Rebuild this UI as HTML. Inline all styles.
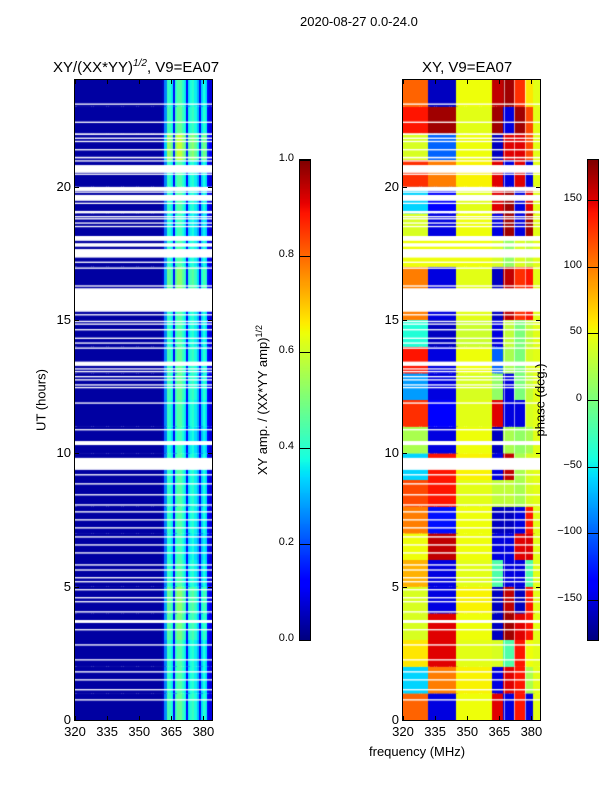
<!DOCTYPE html>
<html><head><meta charset="utf-8">
<style>
body{margin:0;background:#fff;width:600px;height:800px;position:relative;font-family:"Liberation Sans",sans-serif;overflow:hidden}
.t{position:absolute;font-size:13px;color:#000;white-space:nowrap}
canvas{position:absolute}
.frame{position:absolute;border:1px solid #000;box-sizing:border-box}
</style></head><body>
<div class="t" style="left:300px;top:14px">2020-08-27 0.0-24.0</div>
<div class="t" style="left:53px;top:58px;font-size:15px">XY/(XX*YY)<sup style="font-size:10px;font-style:italic">1/2</sup>, V9=EA07</div>
<div class="t" style="left:422px;top:59px;font-size:15px">XY, V9=EA07</div>
<canvas id="cl" width="137" height="640" style="left:75px;top:80px"></canvas>
<canvas id="cr" width="137" height="640" style="left:403px;top:80px"></canvas>
<canvas id="cb1" width="10" height="480" style="left:300px;top:160px"></canvas>
<canvas id="cb2" width="10" height="480" style="left:588px;top:160px"></canvas>
<div class="frame" style="left:74px;top:79px;width:139px;height:642px"></div>
<div class="frame" style="left:402px;top:79px;width:139px;height:642px"></div>
<div class="frame" style="left:299px;top:159px;width:12px;height:482px"></div>
<div class="frame" style="left:587px;top:159px;width:12px;height:482px"></div>
<div class="t" style="left:41px;top:400px;transform:translate(-50%,-50%) rotate(-90deg)">UT (hours)</div>
<div class="t" style="left:262px;top:400px;transform:translate(-50%,-50%) rotate(-90deg)">XY amp. / (XX*YY amp)<sup style="font-size:9px">1/2</sup></div>
<div class="t" style="left:540px;top:400px;transform:translate(-50%,-50%) rotate(-90deg)">phase (deg.)</div>
<div class="t" style="left:369px;top:744px">frequency (MHz)</div>
<div id="ann"></div>
<script>
const hourTicks=[0,5,10,15,20];
const freqTicks=[320,335,350,365,380];
const cb1Ticks=[0.0,0.2,0.4,0.6,0.8,1.0];
const cb2Ticks=[-150,-100,-50,0,50,100,150];
// amplitude per 1 MHz channel 320..383
const ampChan=[0.03,0.03,0.03,0.03,0.03,0.03,0.03,0.03,0.03,0.03,0.03,0.03,0.03,0.03,0.03,0.03,0.03,0.03,0.03,0.03,0.03,0.03,0.03,0.03,0.03,0.03,0.03,0.03,0.03,0.03,0.03,0.03,0.03,0.03,0.03,0.03,0.03,0.03,0.03,0.03,0.03,0.05,0.25,0.42,0.4,0.36,0.12,0.4,0.45,0.45,0.4,0.36,0.12,0.35,0.38,0.4,0.36,0.3,0.12,0.33,0.38,0.35,0.12,0.08];
const ampHourScale=[1.05,1.0,1.0,1.1,1.15,1.0,0.95,1.0,1.0,1.0,0.95,1.0,1.05,1.05,1.0,1.0,1.15,1.0,0.95,1.0,1.0,1.3,1.05,1.0];
// phase per hour (0..23) per band
const phaseLow1=[110,-60,60,40,40,80,50,100,120,-60,20,130,-80,140,-40,100,100,50,40,-60,130,40,140,110];
const phaseLow2=[-150,100,150,150,-150,-150,160,-130,140,140,-150,-140,-150,-150,-160,-150,-150,50,-150,-140,100,-100,170,-160];
const phaseMid=[50,55,45,50,55,45,50,50,45,55,50,45,40,50,35,45,45,50,50,45,55,50,45,50];
const phaseH1=[150,-150,40,-160,-160,-20,-150,-160,30,-150,-160,150,10,-100,-150,-160,-160,40,-150,150,150,-160,170,160];
const phaseH2=[-150,150,-20,170,160,-150,-150,-160,30,160,20,-150,-150,20,30,160,160,10,170,170,-150,150,-150,170];
const phaseH3=[140,140,140,150,-160,-150,150,-150,20,20,10,-150,0,0,0,130,130,40,-150,-150,150,150,170,130];
const phaseH4=[-150,20,50,140,140,-20,150,140,40,40,20,40,30,40,30,140,140,30,170,150,-150,120,120,60];
// flagged (blank) time intervals in hours [start,end]
const gaps=[[23.07,23.12],[22.39,22.44],[21.94,22.0],[21.79,21.84],[21.67,21.72],[21.36,21.41],[21.06,21.12],[20.94,20.99],[20.52,20.81],[20.44,20.49],[19.84,19.99],[19.77,19.82],[19.47,19.69],[19.35,19.4],[19.0,19.09],[18.85,18.9],[18.77,18.82],[18.61,18.66],[18.48,18.53],[17.97,18.15],[17.75,17.88],[17.34,17.66],[17.14,17.19],[16.92,16.97],[16.25,16.3],[15.31,16.19],[15.17,15.22],[14.92,14.97],[14.82,14.87],[14.61,14.66],[14.29,14.34],[14.11,14.16],[13.92,13.97],[13.28,13.44],[13.14,13.19],[13.04,13.09],[12.85,12.9],[12.73,12.78],[12.54,12.59],[12.44,12.49],[11.86,11.91],[10.86,10.91],[10.31,10.46],[9.38,9.83],[9.17,9.22],[8.83,8.88],[8.42,8.47],[8.04,8.09],[7.78,7.83],[7.48,7.53],[7.18,7.23],[6.84,6.89],[6.54,6.59],[6.24,6.29],[5.79,5.84],[5.6,5.65],[5.31,5.36],[5.16,5.21],[4.86,4.91],[4.56,4.61],[4.41,4.46],[4.03,4.08],[3.64,3.75],[3.36,3.41],[2.79,2.84],[2.23,2.28],[1.78,1.83],[1.48,1.53],[1.11,1.16],[0.73,0.78]];

function interp(pts,v){for(let i=1;i<pts.length;i++){if(v<=pts[i][0]){const a=pts[i-1],b=pts[i];return a[1]+(b[1]-a[1])*(v-a[0])/(b[0]-a[0]);}}return pts[pts.length-1][1];}
function jet(v){v=Math.max(0,Math.min(1,v));
 const r=interp([[0,0],[0.35,0],[0.66,1],[0.89,1],[1,0.5]],v);
 const g=interp([[0,0],[0.125,0],[0.375,1],[0.64,1],[0.91,0],[1,0]],v);
 const b=interp([[0,0.5],[0.11,1],[0.34,1],[0.65,0],[1,0]],v);
 return 'rgb('+Math.round(r*255)+','+Math.round(g*255)+','+Math.round(b*255)+')';}
const F0=320,F1=384,H0=0,H1=24,W=137,Hh=640;
function fx(f){return (f-F0)/(F1-F0)*W;}
function hy(h){return Hh-(h-H0)/(H1-H0)*Hh;}
function phaseAt(f,hr){
 if(f<332)return phaseLow1[hr];if(f<345)return phaseLow2[hr];if(f<362)return phaseMid[hr];
 if(f<367)return phaseH1[hr];if(f<372)return phaseH2[hr];if(f<377)return phaseH3[hr];if(f<381)return phaseH4[hr];return 45;}
const cl=document.getElementById('cl').getContext('2d');
const cr=document.getElementById('cr').getContext('2d');
for(let hr=0;hr<24;hr++){
 for(let c=0;c<64;c++){
  const f=F0+c;
  const x0=fx(f),x1=fx(f+1),y0=hy(hr+1),y1=hy(hr);
  cl.fillStyle=jet(Math.min(1,ampChan[c]*(c>40?ampHourScale[hr]:1)));
  cl.fillRect(Math.floor(x0),y0,Math.ceil(x1-x0)+1,y1-y0);
  cr.fillStyle=jet((phaseAt(f,hr)+180)/360);
  cr.fillRect(Math.floor(x0),y0,Math.ceil(x1-x0)+1,y1-y0);
 }
}
// light channel-boundary lines in the phase panel
cr.fillStyle='rgba(255,255,255,0.6)';
for(const f of [367,372,377]){cr.fillRect(Math.round(fx(f)),0,1,Hh);}
for(const g of gaps){
 const y0=hy(g[1]),y1=hy(g[0]);
 cl.fillStyle='#fff';cl.fillRect(0,y0,W,Math.max(1.3,y1-y0));
 cr.fillStyle='#fff';cr.fillRect(0,y0,W,Math.max(1.3,y1-y0));
}
const b1=document.getElementById('cb1').getContext('2d'),b2=document.getElementById('cb2').getContext('2d');
for(let i=0;i<480;i++){const v=1-i/479;b1.fillStyle=jet(v);b1.fillRect(0,i,10,1);b2.fillStyle=jet(v);b2.fillRect(0,i,10,1);}
const ann=document.getElementById('ann');
function add(html,css,name){const d=document.createElement('div');d.className='t';d.style.cssText=css;d.innerHTML=html;
 
 
 ann.appendChild(d);}
for(const L of [75,403]){
 for(const h of hourTicks){const y=80+hy(h);
  add('', 'left:'+L+'px;top:'+y+'px;width:4px;height:1px;background:#000','y-tick');
  add('', 'left:'+(L+133)+'px;top:'+y+'px;width:4px;height:1px;background:#000','y-tick-right');
  add(String(h),'left:'+(L-34)+'px;top:'+(y-8)+'px;width:30px;text-align:right','y-tick-label');}
 for(const f of freqTicks){const x=L+fx(f);
  add('', 'left:'+x+'px;top:716px;width:1px;height:4px;background:#000','x-tick');
  add('', 'left:'+x+'px;top:80px;width:1px;height:4px;background:#000','x-tick-top');
  add(String(f),'left:'+(x-15)+'px;top:724px;width:30px;text-align:center','x-tick-label');}
}
for(const v of cb1Ticks){const y=640-v*480;
 add('', 'left:300px;top:'+y+'px;width:10px;height:1px;background:#000','colorbar1-tick');
 add(v.toFixed(1),'left:264px;top:'+(y-8)+'px;width:30px;text-align:right;font-size:11px','colorbar1-tick-label');}
for(const v of cb2Ticks){const y=400-v/180*240;
 add('', 'left:588px;top:'+y+'px;width:10px;height:1px;background:#000','colorbar2-tick');
 add(v<0?'\u2212'+(-v):String(v),'left:542px;top:'+(y-8)+'px;width:40px;text-align:right;font-size:11px','colorbar2-tick-label');}
</script>
</body></html>
